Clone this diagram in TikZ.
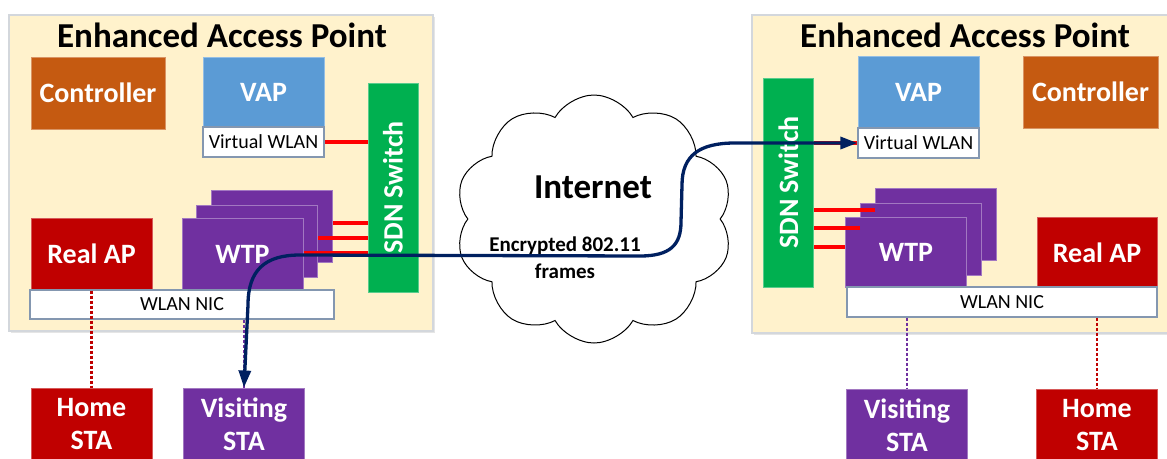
\documentclass[tikz,border=0pt]{standalone}
\usepackage{graphicx}
\usepackage{fontspec}
\setmainfont{Carlito}
\usepackage{tikz}
\usetikzlibrary{shapes.symbols,arrows.meta,shadows}

\definecolor{panelfill}{HTML}{FFF2CC}
\definecolor{panelline}{HTML}{D3D7DC}
\definecolor{ctrlcol}{HTML}{C55A11}
\definecolor{vapcol}{HTML}{5B9BD5}
\definecolor{sdncol}{HTML}{00B050}
\definecolor{wtpcol}{HTML}{7030A0}
\definecolor{apcol}{HTML}{C00000}
\definecolor{navy}{HTML}{002060}
\definecolor{boxline}{HTML}{8497B0}

\tikzset{
  panel/.style={fill=panelfill,draw=panelline,line width=1.5pt,
    drop shadow={shadow xshift=2pt,shadow yshift=-2pt,opacity=0.2}},
  blk/.style={rectangle,draw=#1!65!white,fill=#1,line width=1pt,text=white,
    font=\fontsize{28}{33}\selectfont\bfseries,minimum width=121pt,
    minimum height=72pt,inner sep=0pt,align=center},
  sdn/.style={blk=sdncol,minimum width=50pt,minimum height=209pt},
  iface/.style={rectangle,draw=boxline,fill=white,line width=1.2pt,
    font=\fontsize{20}{24}\selectfont,minimum height=30pt,inner sep=0pt},
  aptitle/.style={font=\fontsize{35}{40}\selectfont\bfseries},
  wire/.style={red,line width=3.5pt},
  radio/.style={dash pattern=on 3pt off 2pt,line width=2.5pt},
  tunnel/.style={navy,line width=3.3pt,>={Triangle[length=17pt,width=12pt]},<->},
}

\begin{document}
\begin{tikzpicture}[x=1pt,y=-1pt]
  \path[use as bounding box,fill=white] (0,0) rectangle (1167,458);

  % the two enhanced access points
  \draw[panel] (9,15) rectangle (433,331);
  \draw[panel] (752,15) rectangle (1180,333);
  \node[aptitle] (titleL) at (222,35) {Enhanced Access Point};
  \node[aptitle] (titleR) at (965,35) {Enhanced Access Point};

  % left access point
  \node[blk=ctrlcol,minimum width=134pt] (ctrlL) at (98,93) {Controller};
  \node[blk=vapcol,minimum height=70pt] (vapL) at (263.5,92) {VAP};
  \node[iface,minimum width=121pt] (vwlanL) at (263.5,142) {Virtual WLAN};
  \node[sdn] (sdnL) at (393,187.5) {\rotatebox{90}{SDN Switch}};
  \node[blk=wtpcol] (wtpL3) at (272,226) {};
  \node[blk=wtpcol] (wtpL2) at (257,241) {};
  \node[blk=wtpcol] (wtpL1) at (242.5,254) {WTP};
  \node[blk=apcol] (realL) at (91.5,254) {Real AP};
  \node[iface,minimum width=304pt,minimum height=29pt] (nicL) at (182,304.5) {WLAN NIC};
  \draw[wire] (vwlanL.east) -- (vwlanL.east -| sdnL.west);
  \draw[wire] ([yshift=3pt]wtpL3.east) -- ([yshift=3pt]wtpL3.east -| sdnL.west);
  \draw[wire] ([yshift=3pt]wtpL2.east) -- ([yshift=3pt]wtpL2.east -| sdnL.west);
  \draw[wire] ([yshift=1pt]wtpL1.east) -- ([yshift=1pt]wtpL1.east -| sdnL.west);

  % right access point
  \node[sdn] (sdnR) at (788.5,182.5) {\rotatebox{90}{SDN Switch}};
  \node[blk=vapcol] (vapR) at (918.5,92) {VAP};
  \node[iface,minimum width=121pt] (vwlanR) at (918.5,143) {Virtual WLAN};
  \node[blk=ctrlcol,minimum width=135pt] (ctrlR) at (1090.5,92) {Controller};
  \node[blk=wtpcol] (wtpR3) at (936,224) {};
  \node[blk=wtpcol] (wtpR2) at (921,239) {};
  \node[blk=wtpcol,minimum height=70pt] (wtpR1) at (906,252) {WTP};
  \node[blk=apcol,minimum width=120pt,minimum height=70pt] (realR) at (1097,252.5) {Real AP};
  \node[iface,minimum width=310pt] (nicR) at (1002,302) {WLAN NIC};
  \draw[wire] (vwlanR.west) -- (vwlanR.west -| sdnR.east);
  \draw[wire] ([yshift=14pt]wtpR3.west) -- ([yshift=14pt]wtpR3.west -| sdnR.east);
  \draw[wire] ([yshift=11pt]wtpR2.west) -- ([yshift=11pt]wtpR2.west -| sdnR.east);
  \draw[wire] ([yshift=5pt]wtpR1.west) -- ([yshift=5pt]wtpR1.west -| sdnR.east);

  % stations
  \node[blk=apcol] (homeL) at (91.5,424) {Home\\STA};
  \node[blk=wtpcol] (visL) at (244,424) {Visiting\\STA};
  \node[blk=wtpcol] (visR) at (907,425) {Visiting\\STA};
  \node[blk=apcol] (homeR) at (1097,425) {Home\\STA};
  \draw[radio,apcol] (realL.south -| homeL.north) -- (homeL.north);
  \draw[radio,wtpcol] (nicL.south -| visL.north) -- (visL.north);
  \draw[radio,wtpcol] (nicR.south -| visR.north) -- (visR.north);
  \draw[radio,apcol] (nicR.south -| homeR.north) -- (homeR.north);

  % internet
  \node[cloud,draw,fill=white,line width=1pt,cloud puffs=10,cloud puff arc=120,
    aspect=1.1,minimum width=278pt,minimum height=248pt,inner sep=0pt] (net) at (594,219) {};
  \node[aptitle] (netlbl) at (593,187) {Internet};
  \node[font=\fontsize{21}{27}\selectfont\bfseries,align=center] (framelbl) at (565,258)
    {Encrypted 802.11\\frames};

  % tunnel between the two access points
  \draw[tunnel] (visL.north) -- (248,305) .. controls (248,270) and (265,255) .. (300,255)
    -- (640,256) .. controls (670,256) and (681,245) .. (681,222)
    -- (682,185) .. controls (682,155) and (700,143) .. (735,143) -- (vwlanR.west);
\end{tikzpicture}
\end{document}
